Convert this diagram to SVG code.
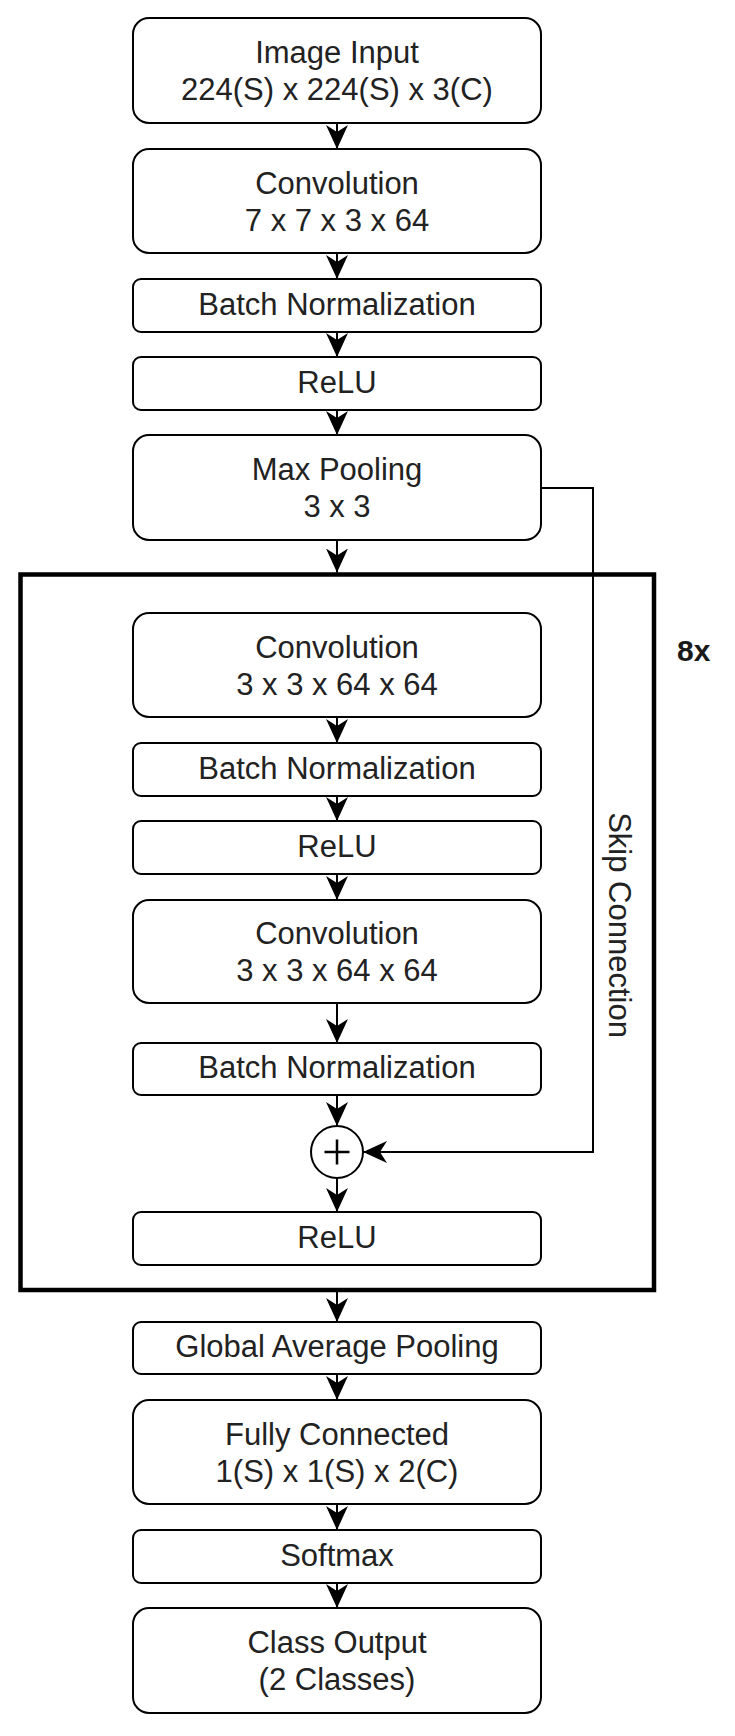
<svg xmlns="http://www.w3.org/2000/svg" width="735" height="1736" viewBox="0 0 735 1736">
  <style>
    .box { fill: #ffffff; stroke: #000000; stroke-width: 2; }
    .lbl { font-family: "Liberation Sans", Arial, sans-serif; font-size: 31px; fill: #222222; text-anchor: middle; }
    .edge { fill: none; stroke: #000000; stroke-width: 2; marker-end: url(#arrow); }
    .frame { fill: none; stroke: #000000; stroke-width: 4.5; }
  </style>
  <defs>
    <marker id="arrow" markerUnits="userSpaceOnUse" markerWidth="26" markerHeight="24" refX="24" refY="11" orient="auto">
      <path d="M0,0 L24,11 L0,22 L7,11 Z" fill="#000000"/>
    </marker>
  </defs>

  <rect width="735" height="1736" fill="#ffffff"/>

  <!-- repeated residual block frame -->
  <g id="residual-block">
    <rect class="frame" x="20.5" y="574.5" width="633.5" height="715.5"/>
    <text x="677" y="661" font-family="Liberation Sans, Arial, sans-serif" font-size="30" font-weight="bold" fill="#1a1a1a">8x</text>
  </g>

  <!-- connectors -->
  <g id="connectors">
    <path class="edge" d="M337,123 V149"/>
    <path class="edge" d="M337,253 V279"/>
    <path class="edge" d="M337,332 V357"/>
    <path class="edge" d="M337,410 V435"/>
    <path class="edge" d="M337,540 V572.5"/>
    <path class="edge" d="M337,717 V743"/>
    <path class="edge" d="M337,796 V821"/>
    <path class="edge" d="M337,874 V900"/>
    <path class="edge" d="M337,1003 V1043"/>
    <path class="edge" d="M337,1095 V1126"/>
    <path class="edge" d="M337,1178 V1212"/>
    <path class="edge" d="M337,1292 V1322"/>
    <path class="edge" d="M337,1374 V1400"/>
    <path class="edge" d="M337,1504 V1530"/>
    <path class="edge" d="M337,1583 V1608"/>
    <path class="edge" d="M541,488 H593 V1152 H363"/>
    <text class="lbl" transform="translate(609,925) rotate(90)">Skip Connection</text>
  </g>

  <g id="image-input">
    <rect class="box" x="133" y="18" width="408" height="105" rx="16"/>
    <text class="lbl" x="337" y="63">Image Input</text>
    <text class="lbl" x="337" y="100">224(S) x 224(S) x 3(C)</text>
  </g>
  <g id="conv1">
    <rect class="box" x="133" y="149" width="408" height="104" rx="16"/>
    <text class="lbl" x="337" y="193.5">Convolution</text>
    <text class="lbl" x="337" y="230.5">7 x 7 x 3 x 64</text>
  </g>
  <g id="bn1">
    <rect class="box" x="133" y="279" width="408" height="53" rx="8"/>
    <text class="lbl" x="337" y="314.5">Batch Normalization</text>
  </g>
  <g id="relu1">
    <rect class="box" x="133" y="357" width="408" height="53" rx="8"/>
    <text class="lbl" x="337" y="392.5">ReLU</text>
  </g>
  <g id="maxpool">
    <rect class="box" x="133" y="435" width="408" height="105" rx="16"/>
    <text class="lbl" x="337" y="480">Max Pooling</text>
    <text class="lbl" x="337" y="517">3 x 3</text>
  </g>
  <g id="block-conv1">
    <rect class="box" x="133" y="613" width="408" height="104" rx="16"/>
    <text class="lbl" x="337" y="657.5">Convolution</text>
    <text class="lbl" x="337" y="694.5">3 x 3 x 64 x 64</text>
  </g>
  <g id="block-bn1">
    <rect class="box" x="133" y="743" width="408" height="53" rx="8"/>
    <text class="lbl" x="337" y="778.5">Batch Normalization</text>
  </g>
  <g id="block-relu1">
    <rect class="box" x="133" y="821" width="408" height="53" rx="8"/>
    <text class="lbl" x="337" y="856.5">ReLU</text>
  </g>
  <g id="block-conv2">
    <rect class="box" x="133" y="900" width="408" height="103" rx="16"/>
    <text class="lbl" x="337" y="944">Convolution</text>
    <text class="lbl" x="337" y="981">3 x 3 x 64 x 64</text>
  </g>
  <g id="block-bn2">
    <rect class="box" x="133" y="1043" width="408" height="52" rx="8"/>
    <text class="lbl" x="337" y="1078">Batch Normalization</text>
  </g>
  <g id="add">
    <circle cx="337" cy="1152" r="26" fill="#ffffff" stroke="#000000" stroke-width="2"/>
    <path d="M324.5,1152 H349.5 M337,1139.5 V1164.5" stroke="#000000" stroke-width="2.5" fill="none"/>
  </g>
  <g id="block-relu2">
    <rect class="box" x="133" y="1212" width="408" height="53" rx="8"/>
    <text class="lbl" x="337" y="1247.5">ReLU</text>
  </g>
  <g id="gap">
    <rect class="box" x="133" y="1322" width="408" height="52" rx="8"/>
    <text class="lbl" x="337" y="1357">Global Average Pooling</text>
  </g>
  <g id="fc">
    <rect class="box" x="133" y="1400" width="408" height="104" rx="16"/>
    <text class="lbl" x="337" y="1444.5">Fully Connected</text>
    <text class="lbl" x="337" y="1481.5">1(S) x 1(S) x 2(C)</text>
  </g>
  <g id="softmax">
    <rect class="box" x="133" y="1530" width="408" height="53" rx="8"/>
    <text class="lbl" x="337" y="1565.5">Softmax</text>
  </g>
  <g id="class-output">
    <rect class="box" x="133" y="1608" width="408" height="105" rx="16"/>
    <text class="lbl" x="337" y="1653">Class Output</text>
    <text class="lbl" x="337" y="1690">(2 Classes)</text>
  </g>
</svg>
